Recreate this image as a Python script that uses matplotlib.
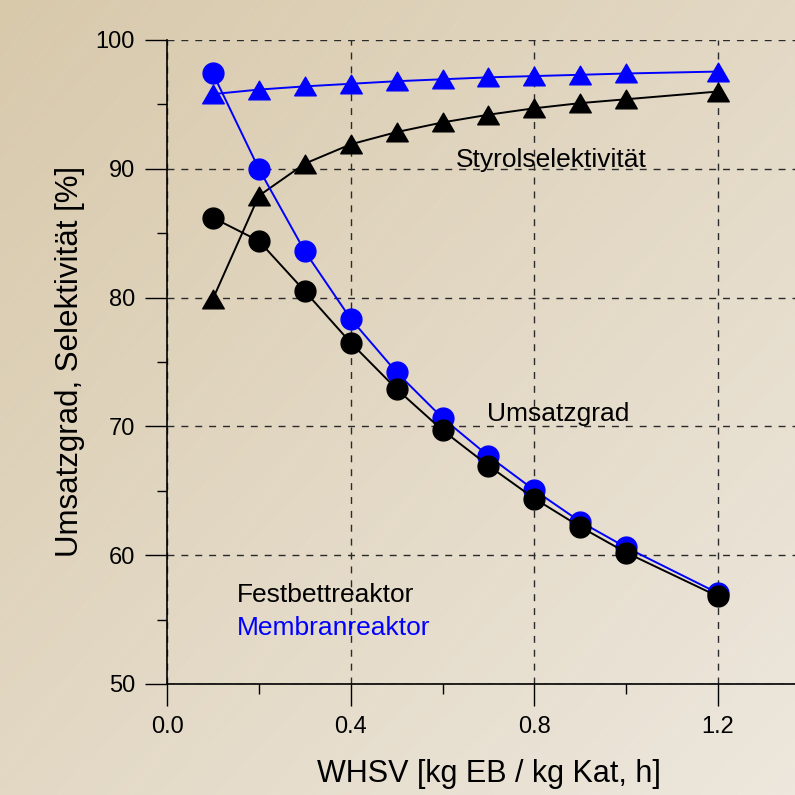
import numpy as np
import matplotlib
matplotlib.use("Agg")
import matplotlib.pyplot as plt
from matplotlib.path import Path
from matplotlib.ticker import MultipleLocator

plt.rcParams['font.family'] = ['Liberation Sans', 'DejaVu Sans']

# WHSV [kg EB / kg Kat, h]
whsv = [0.1, 0.2, 0.3, 0.4, 0.5, 0.6, 0.7, 0.8, 0.9, 1.0, 1.2]

# Umsatzgrad (conversion), %
umsatz_fest = [86.2, 84.4, 80.5, 76.5, 72.9, 69.7, 66.95, 64.4, 62.2, 60.2, 56.8]
umsatz_membran = [97.4, 90.0, 83.6, 78.35, 74.2, 70.65, 67.7, 65.05, 62.6, 60.6, 57.05]

# Styrolselektivitaet, %
selekt_fest = [79.9, 87.9, 90.4, 91.9, 92.85, 93.6, 94.2, 94.7, 95.1, 95.4, 96.0]
selekt_membran = [95.8, 96.15, 96.4, 96.6, 96.8, 96.95, 97.1, 97.2, 97.3, 97.4, 97.55]

BLUE = '#0000ff'
tri = Path([(0, 0.866), (-1, -0.866), (1, -0.866), (0, 0.866)],
           [Path.MOVETO, Path.LINETO, Path.LINETO, Path.CLOSEPOLY])

fig = plt.figure(figsize=(7.95, 7.95), dpi=100)

# background gradient with faint diagonal streaks
bg = fig.add_axes([0, 0, 1, 1], zorder=-10)
gx, gy = np.meshgrid(np.linspace(0, 1, 200), np.linspace(0, 1, 200))
t = np.clip((gx + gy) / 2, 0, 1)
c0 = np.array([216, 201, 171]) / 255
c1 = np.array([237, 231, 221]) / 255
img = c0[None, None, :] * (1 - t[..., None]) + c1[None, None, :] * t[..., None]
bg.imshow(img, extent=[0, 1, 1, 0], aspect='auto')
for off in np.arange(-1.5, 1.6, 0.045):
    bg.plot([off, off + 0.7], [1, 0], color='white', alpha=0.06, lw=0.8)
bg.set_xlim(0, 1)
bg.set_ylim(1, 0)
bg.axis('off')

ax = fig.add_axes([167 / 795, 111 / 795, 628 / 795, 644 / 795])
ax.set_facecolor('none')

ax.plot(whsv, selekt_fest, color='black', lw=1.4, marker=tri, ms=15.5, zorder=3)
ax.plot(whsv, umsatz_membran, color=BLUE, lw=1.4, marker='o', ms=15, zorder=4)
ax.plot(whsv, selekt_membran, color=BLUE, lw=1.4, marker=tri, ms=15.5, zorder=4)
ax.plot(whsv, umsatz_fest, color='black', lw=1.4, marker='o', ms=15, zorder=5)

ax.set_xlim(0, 1.3675)
ax.set_ylim(50, 100)
ax.xaxis.set_major_locator(MultipleLocator(0.4))
ax.xaxis.set_minor_locator(MultipleLocator(0.2))
ax.yaxis.set_major_locator(MultipleLocator(10))
ax.yaxis.set_minor_locator(MultipleLocator(5))
ax.set_xticks([0.0, 0.4, 0.8, 1.2])
ax.set_xticklabels(['0.0', '0.4', '0.8', '1.2'])

ax.grid(True, which='major', color='#2a2a2a', ls=(0, (5, 5)), lw=1.0)
ax.set_axisbelow(True)
for side in ['top', 'right']:
    ax.spines[side].set_visible(False)
for side in ['left', 'bottom']:
    ax.spines[side].set_linewidth(1.2)

ax.tick_params(which='major', direction='out', length=16, width=1.0,
               labelsize=17, pad=7)
ax.tick_params(which='minor', direction='out', length=7.5, width=1.0)

ax.text(0.629, 90.14, 'Styrolselektivität', fontsize=19, va='baseline', ha='left')
ax.text(0.697, 70.42, 'Umsatzgrad', fontsize=19, va='baseline', ha='left')
ax.text(0.152, 56.37, 'Festbettreaktor', fontsize=19, va='baseline', ha='left')
ax.text(0.152, 53.8, 'Membranreaktor', fontsize=19, va='baseline', ha='left',
        color=BLUE)

fig.text(70 / 795, 1 - 361 / 795, 'Umsatzgrad, Selektivität [%]', fontsize=22.5,
         rotation=90, ha='center', va='center')
fig.text(489 / 795, 1 - 782 / 795, 'WHSV [kg EB / kg Kat, h]', fontsize=22,
         ha='center', va='baseline')

fig.savefig('out.png', dpi=100)
